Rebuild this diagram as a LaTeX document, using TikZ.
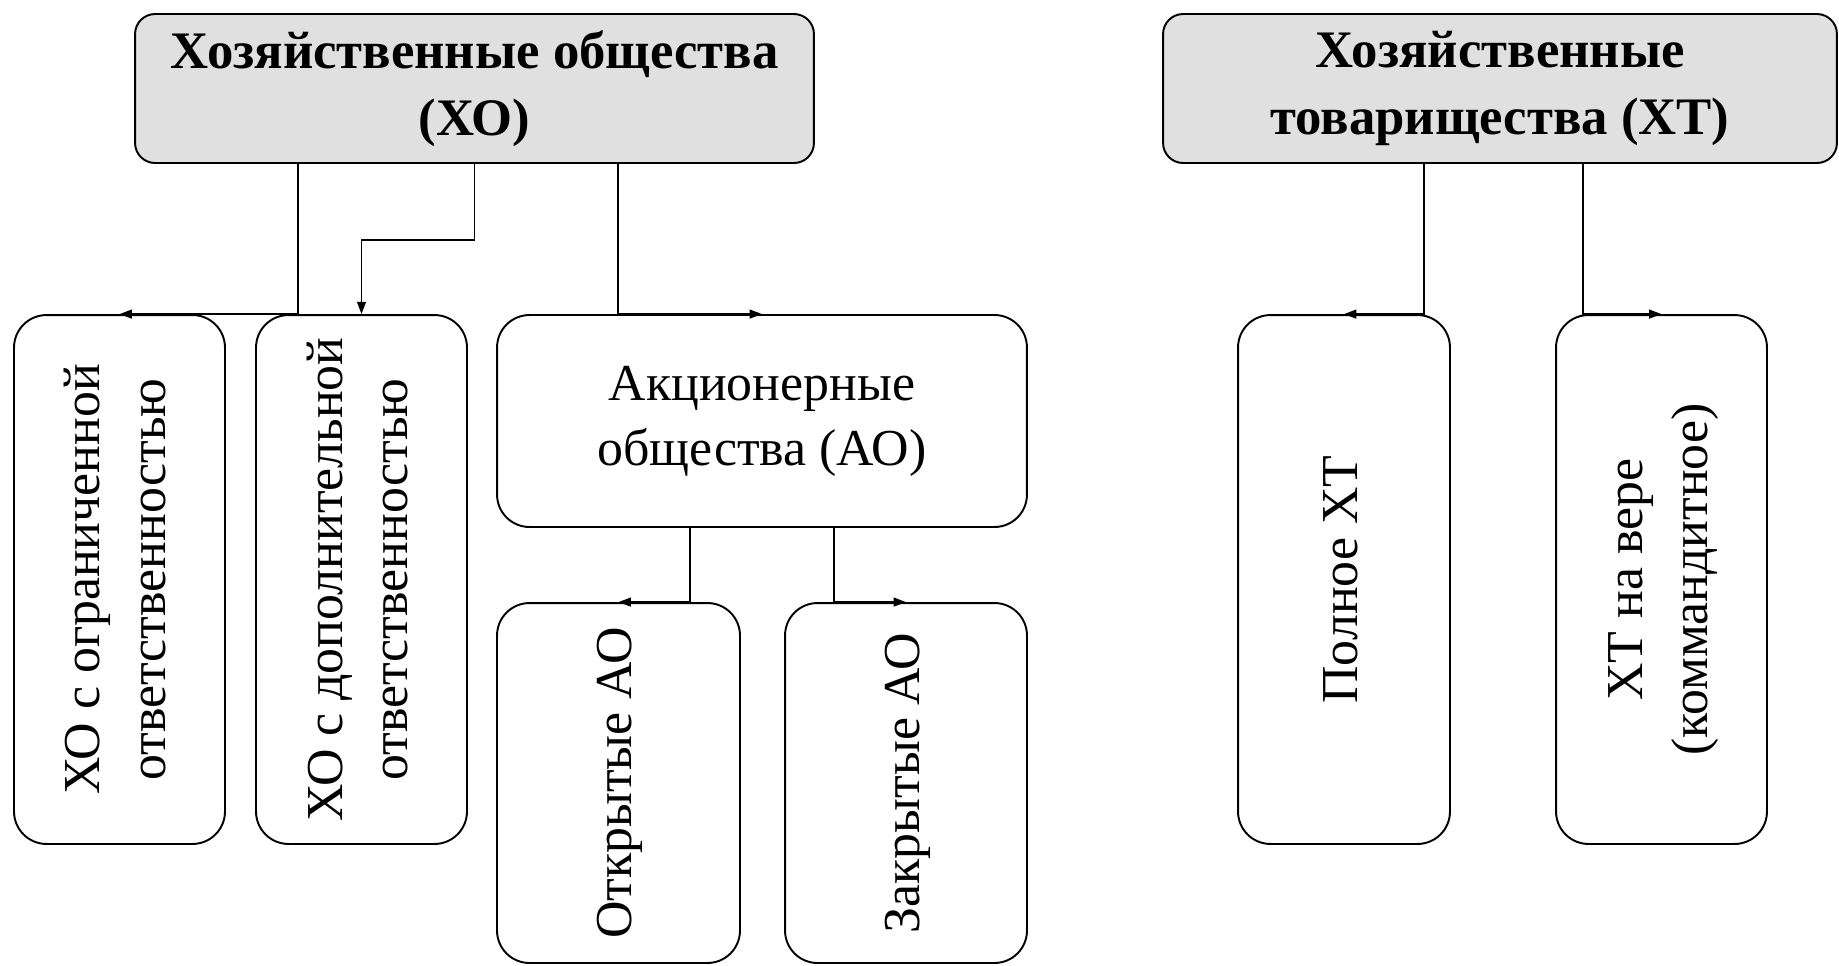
\documentclass[tikz,border=0pt]{standalone}
\usepackage{fontspec}
\setmainfont{Liberation Serif}
\usepackage{graphicx}
\usetikzlibrary{arrows.meta}

\definecolor{headgray}{HTML}{E0E0E0}
\newcommand{\uptext}[1]{\rotatebox{90}{\begin{tabular}{@{}c@{}}#1\end{tabular}}}

\tikzset{
  head/.style={draw, line width=1.1pt, fill=headgray, rounded corners=0.4cm,
    font=\fontsize{30}{38}\selectfont\bfseries, align=center, inner sep=0pt},
  unit/.style={draw, line width=1.1pt, rounded corners=0.65cm,
    font=\fontsize{29.5}{37}\selectfont, align=center, inner sep=0pt},
  tall/.style={unit, minimum width=4.22cm, minimum height=10.58cm},
  link/.style={line width=1pt, -{Triangle[length=7pt,width=5pt]}}
}

\begin{document}
\begin{tikzpicture}[x=0.02cm, y=-0.02cm]
  \useasboundingbox (0,0) rectangle (1839,965);

  % headers
  \node[head, minimum width=13.58cm, minimum height=2.98cm] (xo) at (474.5,88.5)
    {Хозяйственные общества\\(ХО)};
  \node[head, minimum width=13.48cm, minimum height=2.98cm] (xt) at (1500,88.5)
    {Хозяйственные\\товарищества (ХТ)};

  % hozyajstvennye obshchestva
  \node[tall] (ooo) at (119.5,579.5) {\uptext{ХО с ограниченной\\ответственностью}};
  \node[tall] (odo) at (361.5,579.5) {\uptext{ХО с дополнительной\\ответственностью}};
  \node[unit, minimum width=10.6cm, minimum height=4.24cm] (ao) at (762,421)
    {Акционерные\\общества (АО)};
  \node[unit, minimum width=4.86cm, minimum height=7.2cm] (oao) at (618.5,783)
    {\uptext{Открытые АО}};
  \node[unit, minimum width=4.84cm, minimum height=7.2cm] (zao) at (906,783)
    {\uptext{Закрытые АО}};

  % hozyajstvennye tovarishchestva
  \node[tall, minimum width=4.24cm] (pxt) at (1344,579.5) {\uptext{Полное ХТ}};
  \node[tall] (kxt) at (1661.5,579.5) {\uptext{ХТ на вере\\(коммандитное)}};

  % links
  \draw[link] (xo.south -| 298,0) |- (ooo.north);
  \draw[link] (xo.south) -- ++(0,76) -| (odo.north);
  \draw[link] (xo.south -| 618,0) |- (ao.north);
  \draw[link] (ao.south -| 690,0) |- (oao.north);
  \draw[link] (ao.south -| 834,0) |- (zao.north);
  \draw[link] (xt.south -| 1424,0) |- (pxt.north);
  \draw[link] (xt.south -| 1583,0) |- (kxt.north);
\end{tikzpicture}
\end{document}
